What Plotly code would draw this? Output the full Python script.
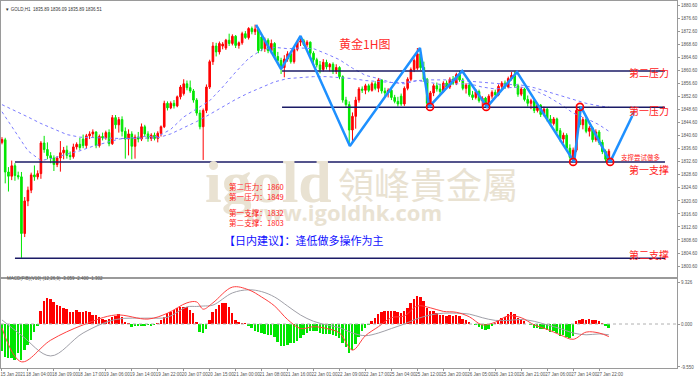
import plotly.graph_objects as go

# ---------------- data ----------------
N = 188
bar_idx = list(range(N))

opens = [1838.6, 1839.4, 1829.5, 1828.2, 1831.4, 1828.4, 1828.0, 1810.6, 1820.6, 1823.9,
         1828.6, 1828.0, 1829.0, 1838.4, 1836.4, 1834.5, 1833.8, 1831.8, 1833.8, 1835.4,
         1836.2, 1834.6, 1834.2, 1837.2, 1838.0, 1839.6, 1837.6, 1840.6, 1841.2, 1841.8,
         1837.6, 1840.4, 1840.0, 1841.6, 1838.2, 1846.2, 1844.0, 1845.6, 1842.0, 1839.6,
         1841.2, 1837.4, 1840.2, 1839.6, 1843.4, 1841.2, 1839.8, 1840.8, 1839.8, 1841.4,
         1843.4, 1850.6, 1849.2, 1850.6, 1849.8, 1852.6, 1853.6, 1856.6, 1855.4, 1854.4,
         1851.6, 1847.6, 1843.4, 1848.4, 1855.6, 1863.4, 1868.2, 1866.4, 1868.2, 1867.6,
         1870.0, 1869.0, 1871.2, 1868.4, 1869.2, 1872.0, 1870.8, 1873.6, 1872.6, 1873.4,
         1871.0, 1867.4, 1870.0, 1866.8, 1869.0, 1865.0, 1863.8, 1861.6, 1864.2, 1865.8,
         1863.4, 1867.2, 1869.4, 1869.8, 1868.6, 1869.4, 1866.0, 1864.0, 1862.4, 1861.0,
         1863.2, 1861.8, 1862.6, 1860.4, 1861.6, 1858.8, 1851.6, 1850.2, 1842.4, 1846.6,
         1851.6, 1855.0, 1854.6, 1856.0, 1854.6, 1856.6, 1855.2, 1857.8, 1854.4, 1853.8,
         1854.6, 1852.4, 1851.2, 1852.8, 1850.4, 1855.2, 1858.0, 1861.0, 1861.4, 1865.8,
         1861.6, 1858.0, 1850.6, 1853.8, 1856.0, 1855.0, 1854.2, 1856.8, 1855.6, 1858.0,
         1856.8, 1859.4, 1857.8, 1855.2, 1856.2, 1853.2, 1852.4, 1854.2, 1851.4, 1852.2,
         1850.2, 1852.8, 1854.0, 1853.2, 1855.8, 1856.8, 1855.6, 1858.2, 1859.2, 1856.0,
         1853.4, 1855.0, 1851.8, 1850.6, 1851.4, 1848.4, 1850.0, 1847.2, 1848.8, 1845.8,
         1844.4, 1845.8, 1842.2, 1839.6, 1840.8, 1836.8, 1834.0, 1836.2, 1848.4, 1844.0,
         1845.6, 1842.0, 1843.0, 1839.4, 1841.8, 1838.6, 1835.8, 1833.4]

highs = [1840.2, 1840.0, 1831.0, 1833.0, 1832.2, 1829.6, 1829.5, 1821.8, 1825.0, 1829.3,
         1831.5, 1830.0, 1839.0, 1840.6, 1838.6, 1835.6, 1834.6, 1834.4, 1839.0, 1837.2,
         1837.6, 1835.8, 1838.2, 1838.6, 1840.0, 1841.0, 1841.2, 1842.0, 1842.6, 1842.0,
         1841.0, 1841.6, 1842.2, 1842.6, 1847.0, 1847.0, 1846.4, 1846.6, 1843.2, 1842.6,
         1842.0, 1841.0, 1841.8, 1844.4, 1844.0, 1842.0, 1841.4, 1841.6, 1842.0, 1843.8,
         1851.4, 1851.2, 1851.2, 1851.6, 1853.0, 1856.2, 1858.0, 1857.6, 1857.6, 1855.0,
         1852.2, 1848.6, 1849.0, 1856.4, 1864.0, 1869.4, 1869.2, 1869.6, 1869.4, 1870.4,
         1872.0, 1871.8, 1871.6, 1869.6, 1872.6, 1872.8, 1874.0, 1874.2, 1874.8, 1873.8,
         1871.8, 1870.8, 1870.6, 1870.2, 1869.4, 1866.4, 1864.6, 1865.4, 1866.6, 1866.2,
         1867.8, 1869.8, 1871.2, 1870.4, 1870.0, 1869.6, 1866.6, 1864.6, 1863.6, 1864.2,
         1864.0, 1863.0, 1863.2, 1862.6, 1862.0, 1859.2, 1852.6, 1851.2, 1847.8, 1852.6,
         1855.6, 1855.8, 1856.6, 1856.6, 1857.2, 1857.4, 1858.4, 1858.0, 1855.4, 1855.2,
         1855.0, 1853.2, 1852.6, 1853.6, 1855.8, 1858.6, 1861.6, 1864.4, 1867.6, 1866.4,
         1863.4, 1858.4, 1854.4, 1856.6, 1857.0, 1856.6, 1857.4, 1857.6, 1858.6, 1859.0,
         1860.0, 1860.6, 1858.4, 1856.8, 1856.8, 1854.4, 1855.0, 1854.8, 1852.8, 1852.6,
         1853.4, 1854.6, 1854.8, 1856.4, 1857.4, 1857.6, 1858.8, 1860.2, 1860.4, 1856.6,
         1855.6, 1855.4, 1853.0, 1852.0, 1851.8, 1850.6, 1850.4, 1849.6, 1849.2, 1847.0,
         1846.4, 1846.2, 1843.0, 1841.6, 1841.4, 1838.0, 1837.0, 1850.2, 1849.6, 1846.4,
         1846.0, 1843.6, 1843.4, 1842.6, 1842.4, 1839.4, 1836.4, 1836.6]

lows = [1838.0, 1826.0, 1823.5, 1827.0, 1826.8, 1827.2, 1803.1, 1809.5, 1819.0, 1823.0,
        1826.8, 1827.2, 1827.4, 1835.4, 1833.4, 1832.2, 1829.8, 1831.0, 1829.6, 1833.4,
        1833.6, 1833.2, 1833.6, 1836.4, 1836.2, 1836.8, 1836.8, 1839.6, 1840.0, 1836.8,
        1837.0, 1839.2, 1839.4, 1837.4, 1837.8, 1842.8, 1841.6, 1840.4, 1833.6, 1834.6,
        1833.4, 1833.6, 1838.6, 1839.0, 1840.4, 1838.8, 1839.0, 1839.2, 1838.6, 1840.4,
        1843.0, 1848.4, 1848.8, 1849.0, 1849.4, 1851.8, 1853.0, 1854.6, 1853.8, 1850.8,
        1846.8, 1842.6, 1833.2, 1847.6, 1855.0, 1862.4, 1865.0, 1865.6, 1867.2, 1867.0,
        1868.2, 1868.4, 1867.6, 1867.4, 1868.6, 1870.4, 1870.2, 1871.8, 1871.6, 1866.0,
        1866.6, 1866.4, 1866.0, 1865.8, 1864.2, 1863.0, 1859.6, 1858.6, 1863.4, 1862.8,
        1862.8, 1866.6, 1868.2, 1868.2, 1867.8, 1865.2, 1863.0, 1861.6, 1859.8, 1860.4,
        1861.0, 1860.4, 1859.6, 1859.6, 1858.0, 1850.8, 1849.4, 1837.6, 1838.8, 1842.8,
        1850.8, 1853.8, 1853.4, 1854.0, 1854.2, 1854.6, 1854.0, 1853.6, 1852.8, 1852.4,
        1851.6, 1850.6, 1849.6, 1849.8, 1849.8, 1854.6, 1857.4, 1860.2, 1860.8, 1860.8,
        1857.2, 1849.4, 1849.8, 1852.8, 1854.2, 1853.4, 1853.8, 1855.0, 1855.0, 1856.2,
        1856.2, 1857.2, 1854.6, 1853.6, 1852.6, 1851.6, 1851.8, 1850.8, 1849.6, 1849.4,
        1849.8, 1852.0, 1852.4, 1852.8, 1855.0, 1855.0, 1855.2, 1857.6, 1855.4, 1852.6,
        1852.8, 1851.2, 1849.6, 1848.8, 1847.6, 1847.8, 1846.4, 1846.6, 1845.0, 1843.6,
        1843.8, 1841.4, 1838.8, 1838.4, 1836.0, 1832.6, 1832.4, 1835.6, 1843.2, 1842.6,
        1841.4, 1840.4, 1838.6, 1838.8, 1837.8, 1835.0, 1832.6, 1832.8]

closes = [1839.5, 1829.5, 1828.2, 1831.4, 1828.4, 1828.0, 1810.6, 1820.6, 1823.9, 1828.6,
          1828.0, 1829.0, 1838.4, 1836.4, 1834.5, 1833.8, 1831.8, 1833.8, 1835.4, 1836.2,
          1834.6, 1834.2, 1837.2, 1838.0, 1837.0, 1837.6, 1840.6, 1841.2, 1841.8, 1837.6,
          1840.4, 1840.0, 1841.6, 1838.2, 1846.2, 1844.0, 1845.6, 1842.0, 1839.6, 1841.2,
          1837.4, 1840.2, 1839.6, 1843.4, 1841.2, 1839.8, 1840.8, 1839.8, 1841.4, 1843.4,
          1850.6, 1849.2, 1850.6, 1849.8, 1852.6, 1855.6, 1856.6, 1855.4, 1854.4, 1851.6,
          1847.6, 1843.4, 1848.4, 1855.6, 1863.4, 1868.2, 1866.4, 1869.0, 1868.8, 1870.0,
          1869.0, 1871.2, 1868.4, 1869.2, 1872.0, 1870.8, 1873.6, 1872.6, 1873.4, 1866.8,
          1867.4, 1870.0, 1866.8, 1869.0, 1865.0, 1863.8, 1861.6, 1864.2, 1865.8, 1863.4,
          1867.2, 1869.4, 1869.8, 1868.6, 1869.4, 1866.0, 1864.0, 1862.4, 1861.0, 1863.2,
          1861.8, 1862.6, 1860.4, 1861.6, 1858.8, 1851.6, 1850.2, 1842.4, 1846.6, 1851.6,
          1855.0, 1854.6, 1856.0, 1854.6, 1856.6, 1855.2, 1857.8, 1854.4, 1853.8, 1854.6,
          1852.4, 1851.2, 1850.4, 1850.4, 1855.2, 1858.0, 1861.0, 1863.8, 1865.8, 1861.6,
          1858.0, 1850.6, 1853.8, 1856.0, 1855.0, 1854.2, 1856.8, 1855.6, 1858.0, 1856.8,
          1859.4, 1857.8, 1855.2, 1856.2, 1853.2, 1852.4, 1854.2, 1851.4, 1852.2, 1850.2,
          1852.8, 1854.0, 1853.2, 1855.8, 1856.8, 1855.6, 1858.2, 1859.2, 1856.0, 1853.4,
          1855.0, 1851.8, 1850.6, 1851.4, 1848.4, 1850.0, 1847.2, 1848.8, 1845.8, 1844.4,
          1845.8, 1842.2, 1839.6, 1840.8, 1836.8, 1834.0, 1836.2, 1848.4, 1844.0, 1845.6,
          1842.0, 1843.0, 1839.4, 1841.8, 1838.6, 1835.8, 1833.4, 1835.9]

# moving averages (read every 4 bars)
ma_bars = [0, 4, 8, 12, 16, 20, 24, 28, 32, 36, 40, 44, 48, 52, 56, 60, 64, 68, 72, 76,
           80, 84, 88, 92, 96, 100, 104, 108, 112, 116, 120, 124, 128, 132, 136, 140,
           144, 148, 152, 156, 160, 164, 168, 172, 176, 180, 184, 187]
ma_fast = [1848.0, 1842.0, 1836.0, 1833.0, 1833.8, 1835.0, 1836.0, 1837.4, 1838.6, 1839.6,
           1840.0, 1840.4, 1840.4, 1842.6, 1846.4, 1849.0, 1851.4, 1855.6, 1860.2, 1864.4,
           1867.0, 1867.8, 1867.4, 1867.6, 1867.4, 1865.8, 1864.0, 1861.4, 1859.2, 1858.2,
           1857.0, 1856.6, 1857.6, 1857.0, 1856.2, 1856.6, 1856.6, 1855.6, 1855.0, 1855.4,
           1855.6, 1854.6, 1852.8, 1850.4, 1847.6, 1846.0, 1844.0, 1842.0]
ma_slow = [1850.2, 1848.4, 1846.4, 1844.4, 1842.6, 1841.0, 1840.2, 1840.0, 1840.0, 1839.8,
           1839.8, 1839.8, 1840.0, 1841.2, 1843.0, 1845.0, 1847.2, 1849.6, 1851.8, 1853.8,
           1855.6, 1857.2, 1858.2, 1858.6, 1858.8, 1858.8, 1858.6, 1858.2, 1857.6, 1857.2,
           1857.0, 1857.0, 1857.6, 1857.8, 1857.8, 1857.8, 1857.4, 1857.0, 1856.6, 1856.4,
           1856.2, 1855.4, 1854.2, 1853.0, 1851.6, 1850.6, 1849.8, 1849.4]

# MACD histogram per bar
macd_hist = [-6.1, -7.3, -7.6, -7.6, -8.0, -6.5, -8.0, -5.8, -4.7, -3.6,
             -1.7, -0.3, 3.0, 5.1, 5.7, 5.5, 5.0, 4.2, 3.9, 3.5,
             3.3, 2.7, 2.7, 3.1, 2.7, 2.7, 2.9, 2.7, 2.0, 2.0,
             1.6, 1.2, 0.9, 1.1, 1.5, 1.8, 2.2, 1.6, 0.5, 0.2,
             -0.7, -0.4, -0.3, -0.3, -0.3, -0.2, -0.3, -0.2, 0.1, 1.0,
             1.6, 2.4, 2.7, 3.1, 3.5, 3.7, 3.7, 3.8, 3.1, 2.4,
             0.5, -1.7, -2.1, -1.2, 1.0, 2.7, 3.3, 4.2, 4.6, 4.7,
             3.8, 2.4, 1.0, 0.5, 0.2, 0.1, -0.4, -0.8, -1.5, -1.8,
             -1.9, -2.2, -2.4, -2.5, -2.8, -4.0, -4.8, -4.9, -4.7, -4.3,
             -4.2, -3.8, -3.0, -2.4, -2.0, -1.6, -1.5, -1.6, -1.9, -2.2,
             -2.3, -2.2, -2.4, -2.6, -3.0, -4.2, -5.0, -6.4, -5.8, -4.4,
             -2.8, -1.6, -0.8, -0.2, 0.6, 1.4, 2.2, 2.6, 2.8, 3.0,
             3.0, 2.8, 2.6, 2.4, 2.8, 3.6, 4.6, 5.6, 6.2, 6.0,
             5.2, 3.6, 3.0, 2.8, 2.4, 2.0, 2.0, 1.8, 2.0, 1.8,
             2.0, 1.8, 1.2, 0.9, 0.4, 0.0, -0.2, -0.6, -1.0, -1.4,
             -1.0, -0.4, 0.2, 0.8, 1.4, 1.6, 2.2, 2.6, 2.2, 1.4,
             1.2, 0.6, 0.0, -0.2, -0.8, -0.8, -1.2, -1.0, -1.4, -1.8,
             -1.6, -2.0, -2.6, -2.4, -2.8, -3.2, -2.6, 0.6, 0.8, 1.2,
             1.0, 1.2, 0.8, 1.0, 0.6, 0.2, -0.4, -0.8]

# MACD lines (read every ~4 bars)
macd_line_bars = [0, 6, 15, 25, 35, 45, 51, 57, 60, 62, 65, 71, 76, 80, 84, 88, 92, 96,
                  100, 104, 108, 112, 116, 120, 124, 128, 132, 136, 140, 144, 148, 152,
                  156, 160, 164, 168, 172, 176, 180, 184, 187]
macd_main = [-0.9, -8.4, -3.6, -0.2, 2.0, 1.1, 2.4, 4.7, 4.9, 3.3, 4.7, 8.2, 7.6, 6.0,
             4.0, 1.0, -1.0, -0.6, -1.0, -2.0, -5.8, -2.6, -0.6, 1.4, 1.8, 4.0, 3.6,
             2.8, 2.6, 1.6, -0.2, 0.4, 1.8, 1.4, -0.2, -1.2, -2.4, -3.4, -1.8, -2.0, -2.8]
macd_signal = [0.9, -2.5, -7.1, -2.0, 1.0, 1.3, 1.5, 3.8, 3.9, 4.0, 4.2, 6.9, 7.6, 7.2,
               6.0, 4.0, 2.0, 0.6, -0.2, -0.8, -2.0, -2.6, -2.0, -1.0, 0.0, 1.2, 2.0,
               2.4, 2.4, 2.2, 1.4, 0.8, 0.8, 1.0, 0.6, -0.2, -1.0, -2.0, -2.4, -2.2, -2.4]

# analyst drawing: zigzag (bar, price)
zig_bars = [78.3, 86.0, 92.0, 107.2, 128.8, 131.6, 141.8, 149.5, 158.7, 176.3, 178.4, 187.4]
zig_prices = [1874.7, 1861.1, 1871.3, 1837.5, 1867.6, 1849.5, 1860.5, 1849.5, 1860.2, 1832.6, 1849.5, 1832.6]
arrow_bars = [187.4, 195.4]
arrow_prices = [1832.6, 1849.2]

circle_bars = [131.9, 149.2, 178.1, 176.0, 187.4]
circle_prices = [1849.5, 1849.5, 1849.5, 1832.6, 1832.6]

# horizontal levels
level_names = ["第二压力", "第一压力", "第一支撑", "第二支撑"]
level_values = [1860.5, 1849.4, 1832.6, 1803.0]
level_start = [86.3, 86.3, 4.0, 4.0]
level_end = [204.3, 204.3, 204.3, 204.3]

price_ticks = [1800.6 + 4 * k for k in range(21)]
time_tick_bars = [8 * k for k in range(24)]
time_tick_labels = ["15 Jan 2021", "18 Jan 04:00", "18 Jan 09:00", "18 Jan 17:00", "19 Jan 06:00",
                    "19 Jan 14:00", "19 Jan 22:00", "20 Jan 07:00", "20 Jan 15:00", "21 Jan 00:00",
                    "21 Jan 08:00", "21 Jan 16:00", "22 Jan 01:00", "22 Jan 09:00", "22 Jan 17:00",
                    "25 Jan 04:00", "25 Jan 12:00", "25 Jan 20:00", "26 Jan 05:00", "26 Jan 13:00",
                    "26 Jan 21:00", "27 Jan 06:00", "27 Jan 14:00", "27 Jan 22:00"]
macd_ticks = [9.326, 0.0, -9.55]
macd_tick_labels = ["9.326", "0.000", "-9.550"]

# ---------------- figure ----------------
W, H = 700, 378
ML, MR, MT, MB = 1, 23, 1, 10
PW, PH = W - ML - MR, H - MT - MB


def px(xp):
    return (xp - ML) / PW


def py(yp):
    return (H - MB - yp) / PH


RED = "#ff0000"
GREEN = "#00e600"
FONT = "Liberation Sans"
CJK = "Noto Sans CJK SC"

fig = go.Figure()

fig.add_trace(go.Scatter(x=ma_bars, y=ma_slow, mode="lines", xaxis="x", yaxis="y",
                         line=dict(color="#7b7bff", width=1, dash="dot"), hoverinfo="skip", showlegend=False))
fig.add_trace(go.Scatter(x=ma_bars, y=ma_fast, mode="lines", xaxis="x", yaxis="y",
                         line=dict(color="#7b7bff", width=1, dash="dot"), hoverinfo="skip", showlegend=False))

for v, s, e in zip(level_values, level_start, level_end):
    fig.add_trace(go.Scatter(x=[s, e], y=[v, v], mode="lines", xaxis="x", yaxis="y",
                             line=dict(color="#1b1b66", width=1.5), hoverinfo="skip", showlegend=False))

fig.add_trace(go.Candlestick(x=bar_idx, open=opens, high=highs, low=lows, close=closes,
                             xaxis="x", yaxis="y", whiskerwidth=0,
                             increasing=dict(line=dict(color=RED, width=1), fillcolor=RED),
                             decreasing=dict(line=dict(color=GREEN, width=1), fillcolor=GREEN),
                             hoverinfo="skip", showlegend=False))

fig.add_trace(go.Scatter(x=zig_bars, y=zig_prices, mode="lines", xaxis="x", yaxis="y",
                         line=dict(color="#1e90ff", width=2.5), hoverinfo="skip", showlegend=False))
fig.add_trace(go.Scatter(x=arrow_bars, y=arrow_prices, mode="lines+markers", xaxis="x", yaxis="y",
                         line=dict(color="#1e90ff", width=2.5),
                         marker=dict(symbol="arrow", angleref="previous", size=[0, 9], color="#1e90ff"),
                         hoverinfo="skip", showlegend=False))
fig.add_trace(go.Scatter(x=circle_bars, y=circle_prices, mode="markers", xaxis="x", yaxis="y",
                         marker=dict(symbol="circle-open", size=7, color=RED, line=dict(width=1.6, color=RED)),
                         hoverinfo="skip", showlegend=False))

# MACD pane
hist_colors = [RED if v >= 0 else GREEN for v in macd_hist]
fig.add_trace(go.Bar(x=bar_idx, y=macd_hist, marker=dict(color=hist_colors, line=dict(width=0)),
                     width=0.6, xaxis="x2", yaxis="y2", hoverinfo="skip", showlegend=False))
fig.add_trace(go.Scatter(x=macd_line_bars, y=macd_signal, mode="lines", xaxis="x2", yaxis="y2",
                         line=dict(color="#a0a0a8", width=1, shape="spline"), hoverinfo="skip", showlegend=False))
fig.add_trace(go.Scatter(x=macd_line_bars, y=macd_main, mode="lines", xaxis="x2", yaxis="y2",
                         line=dict(color="#ff4040", width=1, shape="spline"), hoverinfo="skip", showlegend=False))

main_dom = [py(277), 1.0]
macd_dom = [0.0, py(279)]
xr = [-0.3, 208.0]
yr = [1880.6 - (277 - 5.7) / 3.254, 1880.6 + (5.7 - 1) / 3.254]
yr2 = [-(368 - 324) / 4.5, (324 - 279) / 4.5]

axis_common = dict(showgrid=False, zeroline=False, showline=True, linecolor="#9a9a9a",
                   linewidth=1, mirror=True)

fig.update_layout(
    width=W, height=H, margin=dict(l=ML, r=MR, t=MT, b=MB),
    paper_bgcolor="white", plot_bgcolor="white",
    font=dict(family=FONT, color="#444"),
    bargap=0,
    xaxis=dict(domain=[0, 1], range=xr, anchor="y", showticklabels=False, ticks="",
               rangeslider=dict(visible=False), **axis_common),
    yaxis=dict(domain=main_dom, range=yr, side="right", tickvals=price_ticks,
               ticktext=["%.2f" % v for v in price_ticks], tickfont=dict(size=4.5, color="#555"),
               ticks="outside", ticklen=2, tickcolor="#999", anchor="x", **axis_common),
    xaxis2=dict(domain=[0, 1], range=xr, anchor="y2", tickvals=time_tick_bars,
                ticktext=time_tick_labels, tickfont=dict(size=4.5, color="#555"),
                ticks="outside", ticklen=2, tickcolor="#999", ticklabelshift=11, tickangle=0,
                **axis_common),
    yaxis2=dict(domain=macd_dom, range=yr2, side="right", anchor="x2", tickvals=macd_ticks,
                ticktext=macd_tick_labels, tickfont=dict(size=4.5, color="#555"),
                ticks="outside", ticklen=2, tickcolor="#999", **axis_common),
)

fig.add_shape(type="line", xref="x2 domain", yref="y2", x0=0, x1=1, y0=0, y1=0,
              line=dict(color="#b0b0b0", width=1, dash="dot"))

ann = []
# watermark
ann.append(dict(text="<b>igold</b>", x=px(268), y=py(182), xref="paper", yref="paper",
                showarrow=False, font=dict(family="Liberation Serif", size=60, color="#e9e2d2")))
ann.append(dict(text="領峰貴金屬", x=px(428), y=py(183), xref="paper", yref="paper",
                showarrow=False, font=dict(family="Noto Sans CJK TC", size=36, color="#e9e2d2")))
ann.append(dict(text="<b>www.igoldhk.com</b>", x=px(343), y=py(212), xref="paper", yref="paper",
                showarrow=False, font=dict(family="Open Sans", size=22, color="#e9e2d2")))
# title
ann.append(dict(text="黄金1H图", x=px(364), y=py(33), xref="paper", yref="paper", showarrow=False,
                font=dict(family=CJK, size=12, color="#ff2a2a")))
# summary text (two blocks of two lines)
summary_blocks = ["第二压力：1860<br>第一压力：1849", "第一支撑：1832<br>第二支撑：1803"]
summary_y = [191.5, 217.5]
for t, yy in zip(summary_blocks, summary_y):
    ann.append(dict(text=t, x=px(227), y=py(yy), xref="paper", yref="paper", xanchor="left",
                    yanchor="middle", align="left", showarrow=False,
                    font=dict(family=CJK, size=7.6, color="#ff2020")))
ann.append(dict(text="【日内建议】：逢低做多操作为主", x=px(222), y=py(240), xref="paper", yref="paper",
                xanchor="left", showarrow=False, font=dict(family=CJK, size=11, color="#1010ff")))
# level labels on the right
label_y = [63, 101, 169, 264]
for t, yy in zip(level_names, label_y):
    ann.append(dict(text=t, x=px(627), y=py(yy), xref="paper", yref="paper", xanchor="left",
                    showarrow=False, font=dict(family=CJK, size=10, color="#ff2020")))
ann.append(dict(text="支撑尝试做多", x=px(619), y=py(157), xref="paper", yref="paper", xanchor="left",
                showarrow=False, font=dict(family=CJK, size=6.5, color="#ff2020")))
# headers
ann.append(dict(text="▼ GOLD,H1  1835.89 1836.09 1835.89 1836.51", x=px(3), y=py(5), xref="paper",
                yref="paper", xanchor="left", showarrow=False, font=dict(family=FONT, size=4.5, color="#333")))
ann.append(dict(text="MACD(FIB)(V10) (12,26,9) -3.059 -2.400 -1.302", x=px(5), y=py(283), xref="paper",
                yref="paper", xanchor="left", showarrow=False, font=dict(family=FONT, size=4.5, color="#555")))
fig.update_layout(annotations=ann)

fig.write_html("out.html")
